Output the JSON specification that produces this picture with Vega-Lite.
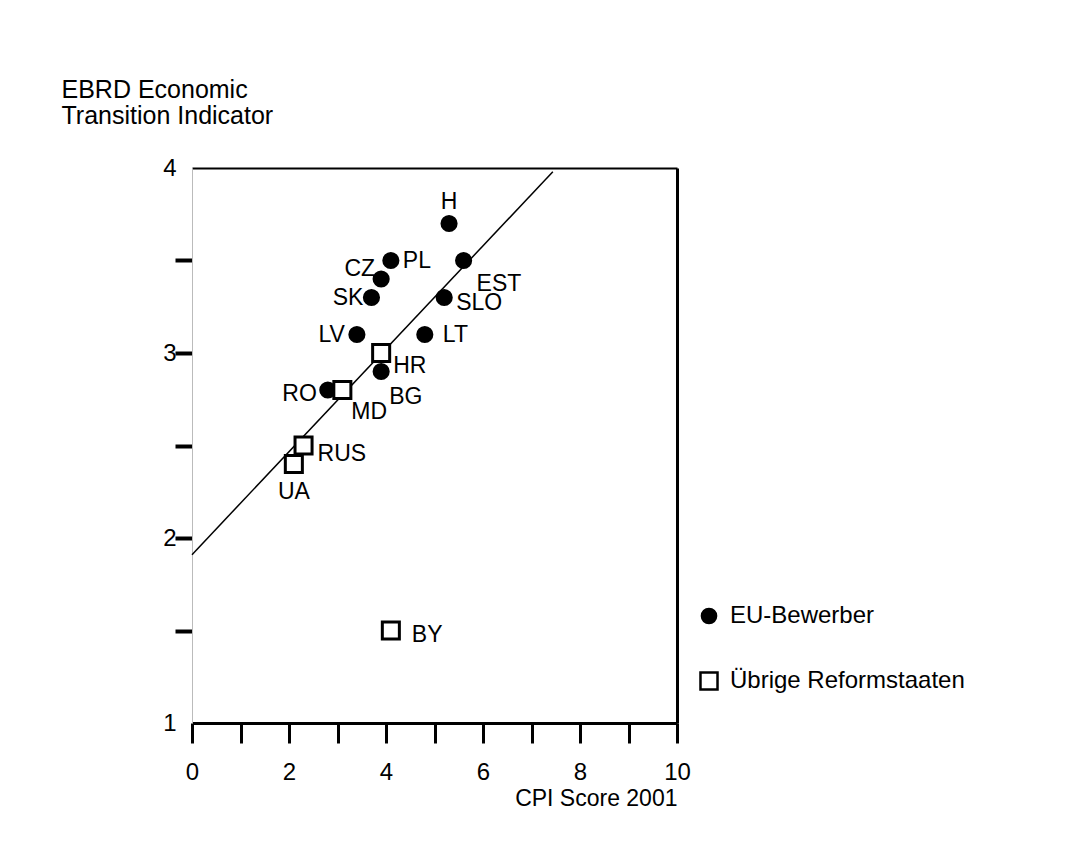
{
  "$schema": "https://vega.github.io/schema/vega-lite/v6.json",
  "width": 485,
  "height": 555,
  "autosize": "none",
  "padding": {"left": 192, "top": 168, "right": 392, "bottom": 138},
  "background": "white",
  "config": {
    "view": {"stroke": null},
    "font": "Liberation Sans",
    "text": {"font": "Liberation Sans", "fontSize": 23, "baseline": "middle", "color": "black"}
  },
  "datasets": {
    "pts": [
      {"code": "H", "cpi": 5.3, "ebrd": 3.7, "group": "EU-Bewerber"},
      {"code": "PL", "cpi": 4.1, "ebrd": 3.5, "group": "EU-Bewerber"},
      {"code": "EST", "cpi": 5.6, "ebrd": 3.5, "group": "EU-Bewerber"},
      {"code": "CZ", "cpi": 3.9, "ebrd": 3.4, "group": "EU-Bewerber"},
      {"code": "SK", "cpi": 3.7, "ebrd": 3.3, "group": "EU-Bewerber"},
      {"code": "SLO", "cpi": 5.2, "ebrd": 3.3, "group": "EU-Bewerber"},
      {"code": "LV", "cpi": 3.4, "ebrd": 3.1, "group": "EU-Bewerber"},
      {"code": "LT", "cpi": 4.8, "ebrd": 3.1, "group": "EU-Bewerber"},
      {"code": "BG", "cpi": 3.9, "ebrd": 2.9, "group": "EU-Bewerber"},
      {"code": "RO", "cpi": 2.8, "ebrd": 2.8, "group": "EU-Bewerber"},
      {"code": "HR", "cpi": 3.9, "ebrd": 3.0, "group": "Übrige Reformstaaten"},
      {"code": "MD", "cpi": 3.1, "ebrd": 2.8, "group": "Übrige Reformstaaten"},
      {"code": "RUS", "cpi": 2.3, "ebrd": 2.5, "group": "Übrige Reformstaaten"},
      {"code": "UA", "cpi": 2.1, "ebrd": 2.4, "group": "Übrige Reformstaaten"},
      {"code": "BY", "cpi": 4.1, "ebrd": 1.5, "group": "Übrige Reformstaaten"}
    ],
    "fit": [
      {"cpi": 0, "ebrd": 1.91},
      {"cpi": 7.44, "ebrd": 3.98}
    ]
  },
  "layer": [
    {
      "data": {"name": "fit"},
      "mark": {"type": "line", "color": "black", "strokeWidth": 1.5},
      "encoding": {
        "x": {"field": "cpi", "type": "quantitative", "scale": {"domain": [0, 10], "nice": false, "zero": false},
              "axis": {"orient": "top", "title": null, "labels": false, "ticks": false, "grid": false, "domainColor": "black", "domainWidth": 2}},
        "y": {"field": "ebrd", "type": "quantitative", "scale": {"domain": [1, 4], "nice": false, "zero": false},
              "axis": {"orient": "right", "title": null, "labels": false, "ticks": false, "grid": false, "domainColor": "black", "domainWidth": 3}}
      }
    },
    {
      "data": {"name": "pts"},
      "mark": {"type": "point", "filled": true, "stroke": "black", "strokeWidth": 3, "opacity": 1},
      "encoding": {
        "x": {"field": "cpi", "type": "quantitative",
              "axis": {"orient": "bottom", "title": "CPI Score 2001", "grid": false,
                       "values": [0, 1, 2, 3, 4, 5, 6, 7, 8, 9, 10],
                       "labelExpr": "datum.value % 2 == 0 ? datum.label : ''",
                       "labelFlush": false, "labelOverlap": false,
                       "domainColor": "black", "domainWidth": 3,
                       "tickColor": "black", "tickWidth": 3, "tickSize": 20,
                       "labelFontSize": 24, "labelColor": "black", "labelPadding": 17, "labelFont": "Liberation Sans",
                       "titleFontSize": 23, "titleFontWeight": "normal", "titleColor": "black", "titleFont": "Liberation Sans",
                       "titleAnchor": "end", "titleAlign": "right", "titleBaseline": "top", "titleX": 485, "titleY": 64}},
        "y": {"field": "ebrd", "type": "quantitative",
              "axis": {"orient": "left", "grid": false,
                       "title": ["EBRD Economic", "Transition Indicator"],
                       "values": [1, 1.5, 2, 2.5, 3, 3.5, 4],
                       "labelExpr": "datum.value % 1 == 0 ? format(datum.value, 'd') : ''",
                       "labelFlush": false, "labelOverlap": false,
                       "domainColor": "#bbbbbb", "domainWidth": 1,
                       "tickColor": "black", "tickWidth": 4, "tickSize": 17,
                       "tickOpacity": {"condition": {"test": "datum.value == 1 || datum.value == 4", "value": 0}, "value": 1},
                       "labelFontSize": 24, "labelColor": "black", "labelPadding": -1, "labelFont": "Liberation Sans",
                       "titleFontSize": 25, "titleFontWeight": "normal", "titleColor": "black", "titleFont": "Liberation Sans",
                       "titleAngle": 0, "titleAlign": "left", "titleBaseline": "alphabetic", "titleX": -131, "titleY": -71, "titleLineHeight": 26}},
        "shape": {"field": "group", "type": "nominal", "scale": {"domain": ["EU-Bewerber", "Übrige Reformstaaten"], "range": ["circle", "square"]},
                  "legend": {"title": null, "orient": "none", "legendX": 505, "legendY": 436, "direction": "vertical",
                             "labelFontSize": 24, "labelFont": "Liberation Sans", "labelColor": "black", "labelOffset": 9, "labelLimit": 400,
                             "rowPadding": 38, "symbolStrokeColor": "black", "symbolStrokeWidth": 2.5}},
        "fill": {"field": "group", "type": "nominal", "scale": {"domain": ["EU-Bewerber", "Übrige Reformstaaten"], "range": ["black", "white"]}},
        "size": {"field": "group", "type": "nominal", "scale": {"domain": ["EU-Bewerber", "Übrige Reformstaaten"], "range": [200, 290]}}
      }
    },
    {"data": {"name": "pts"}, "transform": [{"filter": {"field": "code", "oneOf": ["H"]}}],
     "mark": {"type": "text", "align": "center", "dx": 0, "dy": -22},
     "encoding": {"x": {"field": "cpi", "type": "quantitative", "axis": null}, "y": {"field": "ebrd", "type": "quantitative", "axis": null}, "text": {"field": "code"}}},
    {"data": {"name": "pts"}, "transform": [{"filter": {"field": "code", "oneOf": ["PL"]}}],
     "mark": {"type": "text", "align": "left", "dx": 12, "dy": 0},
     "encoding": {"x": {"field": "cpi", "type": "quantitative", "axis": null}, "y": {"field": "ebrd", "type": "quantitative", "axis": null}, "text": {"field": "code"}}},
    {"data": {"name": "pts"}, "transform": [{"filter": {"field": "code", "oneOf": ["LT"]}}],
     "mark": {"type": "text", "align": "left", "dx": 18, "dy": 0},
     "encoding": {"x": {"field": "cpi", "type": "quantitative", "axis": null}, "y": {"field": "ebrd", "type": "quantitative", "axis": null}, "text": {"field": "code"}}},
    {"data": {"name": "pts"}, "transform": [{"filter": {"field": "code", "oneOf": ["EST"]}}],
     "mark": {"type": "text", "align": "left", "dx": 13, "dy": 23},
     "encoding": {"x": {"field": "cpi", "type": "quantitative", "axis": null}, "y": {"field": "ebrd", "type": "quantitative", "axis": null}, "text": {"field": "code"}}},
    {"data": {"name": "pts"}, "transform": [{"filter": {"field": "code", "oneOf": ["SLO"]}}],
     "mark": {"type": "text", "align": "left", "dx": 12, "dy": 5},
     "encoding": {"x": {"field": "cpi", "type": "quantitative", "axis": null}, "y": {"field": "ebrd", "type": "quantitative", "axis": null}, "text": {"field": "code"}}},
    {"data": {"name": "pts"}, "transform": [{"filter": {"field": "code", "oneOf": ["HR"]}}],
     "mark": {"type": "text", "align": "left", "dx": 12, "dy": 13},
     "encoding": {"x": {"field": "cpi", "type": "quantitative", "axis": null}, "y": {"field": "ebrd", "type": "quantitative", "axis": null}, "text": {"field": "code"}}},
    {"data": {"name": "pts"}, "transform": [{"filter": {"field": "code", "oneOf": ["BG"]}}],
     "mark": {"type": "text", "align": "left", "dx": 8, "dy": 25},
     "encoding": {"x": {"field": "cpi", "type": "quantitative", "axis": null}, "y": {"field": "ebrd", "type": "quantitative", "axis": null}, "text": {"field": "code"}}},
    {"data": {"name": "pts"}, "transform": [{"filter": {"field": "code", "oneOf": ["MD"]}}],
     "mark": {"type": "text", "align": "left", "dx": 9, "dy": 22},
     "encoding": {"x": {"field": "cpi", "type": "quantitative", "axis": null}, "y": {"field": "ebrd", "type": "quantitative", "axis": null}, "text": {"field": "code"}}},
    {"data": {"name": "pts"}, "transform": [{"filter": {"field": "code", "oneOf": ["RUS"]}}],
     "mark": {"type": "text", "align": "left", "dx": 14, "dy": 8},
     "encoding": {"x": {"field": "cpi", "type": "quantitative", "axis": null}, "y": {"field": "ebrd", "type": "quantitative", "axis": null}, "text": {"field": "code"}}},
    {"data": {"name": "pts"}, "transform": [{"filter": {"field": "code", "oneOf": ["BY"]}}],
     "mark": {"type": "text", "align": "left", "dx": 21, "dy": 4},
     "encoding": {"x": {"field": "cpi", "type": "quantitative", "axis": null}, "y": {"field": "ebrd", "type": "quantitative", "axis": null}, "text": {"field": "code"}}},
    {"data": {"name": "pts"}, "transform": [{"filter": {"field": "code", "oneOf": ["CZ"]}}],
     "mark": {"type": "text", "align": "right", "dx": -6, "dy": -10},
     "encoding": {"x": {"field": "cpi", "type": "quantitative", "axis": null}, "y": {"field": "ebrd", "type": "quantitative", "axis": null}, "text": {"field": "code"}}},
    {"data": {"name": "pts"}, "transform": [{"filter": {"field": "code", "oneOf": ["SK"]}}],
     "mark": {"type": "text", "align": "right", "dx": -8, "dy": 0},
     "encoding": {"x": {"field": "cpi", "type": "quantitative", "axis": null}, "y": {"field": "ebrd", "type": "quantitative", "axis": null}, "text": {"field": "code"}}},
    {"data": {"name": "pts"}, "transform": [{"filter": {"field": "code", "oneOf": ["LV"]}}],
     "mark": {"type": "text", "align": "right", "dx": -12, "dy": 0},
     "encoding": {"x": {"field": "cpi", "type": "quantitative", "axis": null}, "y": {"field": "ebrd", "type": "quantitative", "axis": null}, "text": {"field": "code"}}},
    {"data": {"name": "pts"}, "transform": [{"filter": {"field": "code", "oneOf": ["RO"]}}],
     "mark": {"type": "text", "align": "right", "dx": -11, "dy": 4},
     "encoding": {"x": {"field": "cpi", "type": "quantitative", "axis": null}, "y": {"field": "ebrd", "type": "quantitative", "axis": null}, "text": {"field": "code"}}},
    {"data": {"name": "pts"}, "transform": [{"filter": {"field": "code", "oneOf": ["UA"]}}],
     "mark": {"type": "text", "align": "center", "dx": 0, "dy": 28},
     "encoding": {"x": {"field": "cpi", "type": "quantitative", "axis": null}, "y": {"field": "ebrd", "type": "quantitative", "axis": null}, "text": {"field": "code"}}}
  ],
  "resolve": {"axis": {"x": "independent", "y": "independent"}}
}
